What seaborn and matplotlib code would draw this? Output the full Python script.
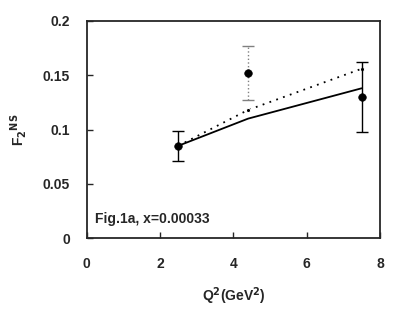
import numpy as np
import pandas as pd
import matplotlib
matplotlib.use("Agg")
import matplotlib.pyplot as plt
import seaborn as sns

# data
q2_data = [2.5, 4.4, 7.5]
f2_data = [0.085, 0.152, 0.130]
f2_lo = [0.071, 0.127, 0.098]
f2_hi = [0.099, 0.177, 0.162]

q2_model = [2.5, 4.4, 7.5]
f2_solid = [0.085, 0.110, 0.138]
f2_dotted = [0.085, 0.118, 0.156]

sns.set_style("ticks")
plt.rcParams['font.family'] = ['Liberation Sans', 'DejaVu Sans']
plt.rcParams['font.weight'] = 'bold'

fig = plt.figure(figsize=(3.93, 3.11), dpi=100)
ax = fig.add_axes([0.2206, 0.2347, 0.7464, 0.6978])

df = pd.DataFrame({"q2": q2_model, "solid": f2_solid, "dotted": f2_dotted})
sns.lineplot(x="q2", y="solid", data=df, ax=ax, color="black", lw=1.3)
sns.lineplot(x="q2", y="dotted", data=df, ax=ax, color="black", lw=1.3,
             linestyle=(0, (1, 3)), marker="o", markersize=3)

# error bars; middle one is grey dotted
for i in range(3):
    y = f2_data[i]
    err = [[y - f2_lo[i]], [f2_hi[i] - y]]
    if i == 1:
        eb = ax.errorbar(q2_data[i], y, yerr=err, fmt="none", ecolor="grey",
                         elinewidth=1, capsize=4, capthick=1)
        eb[2][0].set_linestyle(":")
    else:
        ax.errorbar(q2_data[i], y, yerr=err, fmt="none", ecolor="black",
                    elinewidth=1, capsize=4, capthick=1)
sns.scatterplot(x=q2_data, y=f2_data, ax=ax, color="black", s=30,
                edgecolor="black", zorder=5)

ax.set_xlim(0, 8)
ax.set_ylim(0, 0.2)
ax.set_xticks([0, 2, 4, 6, 8])
ax.set_yticks([0, 0.05, 0.1, 0.15, 0.2])
ax.set_yticklabels(["0", "0.05", "0.1", "0.15", "0.2"])
ax.tick_params(direction="in", length=4, width=1, labelsize=10)
ax.tick_params(axis="x", pad=14)
ax.tick_params(axis="y", pad=12)
for s in ax.spines.values():
    s.set_linewidth(1.3)
    s.set_visible(True)

ax.set_xlabel(r"Q$^2$(GeV$^2$)", fontsize=10, fontweight="bold", labelpad=10)
ax.set_ylabel(r"F$_2$$^{\rm NS}$", fontsize=10, fontweight="bold", labelpad=10)
ax.text(0.03, 0.07, "Fig.1a, x=0.00033", transform=ax.transAxes,
        fontsize=10, fontweight="bold")

fig.savefig("out.png", dpi=100)
